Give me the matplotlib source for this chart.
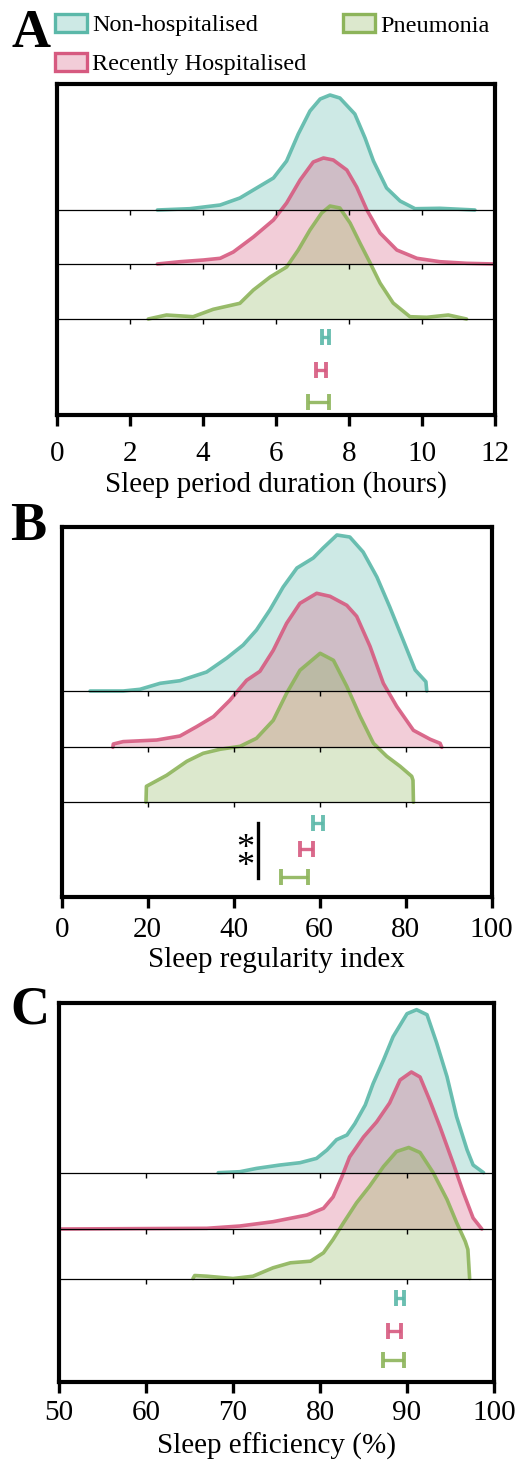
import matplotlib
matplotlib.use("Agg")
import matplotlib.pyplot as plt
from matplotlib.patches import Rectangle
import numpy as np

plt.rcParams['font.family'] = ['Liberation Serif', 'DejaVu Serif']

W, H = 518, 1461
DPI = 100

groups = ["Non-hospitalised", "Recently Hospitalised", "Pneumonia"]
line_colors = ["#5BB8A9", "#D65A80", "#8DB45A"]

# ---------------- Panel A: sleep period duration (hours) ----------------
A_teal_x = [2.75, 3.64, 4.47, 5.01, 5.47, 5.93, 6.29, 6.61, 6.93, 7.21, 7.48, 7.75, 8.16, 8.44, 8.67, 9.03, 9.40, 9.81, 10.49, 11.45]
A_teal_d = [0, 1.3, 5, 12, 22, 32, 49, 76, 99, 111, 115, 112, 96, 72, 49, 22, 9, 1.3, 1.7, 0]
A_pink_x = [2.75, 3.37, 4.01, 4.47, 4.83, 5.38, 5.93, 6.29, 6.66, 7.02, 7.30, 7.57, 7.94, 8.21, 8.49, 8.85, 9.31, 9.86, 10.49, 11.22, 12.0]
A_pink_d = [0, 2.3, 4, 5.7, 12, 27, 44, 61, 84, 102, 106, 104, 94, 77, 54, 31, 14, 5.7, 2.3, 0.7, 0]
A_green_x = [2.50, 3.0, 3.73, 4.28, 5.01, 5.38, 5.84, 6.29, 6.61, 6.93, 7.25, 7.48, 7.75, 8.03, 8.30, 8.58, 8.85, 9.21, 9.67, 10.13, 10.72, 11.22]
A_green_d = [0, 4, 2.3, 9.7, 15.7, 29, 42, 52, 69, 89, 106, 113, 111, 96, 76, 56, 36, 16, 2.3, 1.7, 4, 0]
A_mean = [7.35, 7.24, 7.16]
A_lo = [7.25, 7.10, 6.88]
A_hi = [7.44, 7.37, 7.44]
A_ticks = [0, 2, 4, 6, 8, 10, 12]

# ---------------- Panel B: sleep regularity index ----------------
B_teal_x = [6.6, 14.3, 18.2, 22.9, 27.5, 33.7, 38.4, 42.2, 45.3, 48.4, 51.5, 54.7, 58.5, 60.8, 64.0, 67.0, 70.1, 73.3, 76.3, 79.4, 82.2, 84.7, 84.9]
B_teal_d = [0, 0, 1.7, 7.7, 10.3, 19, 33, 46, 61, 81, 104, 123, 133, 143, 156, 154, 139, 114, 84, 51, 21, 9.3, 0]
B_pink_x = [11.9, 12.0, 14.3, 22.1, 27.5, 31.4, 35.3, 39.1, 43.0, 46.1, 49.2, 52.3, 55.4, 59.3, 62.4, 66.3, 68.6, 71.7, 74.8, 77.9, 81.8, 85.7, 88.0, 88.4]
B_pink_d = [0, 3.3, 5.7, 7.3, 11.3, 20.7, 30.7, 47, 67, 76, 97, 124, 144, 154, 151, 142, 131, 101, 64, 41, 17, 8, 4, 0]
B_green_x = [19.6, 19.7, 24.4, 29.1, 32.9, 36.8, 41.5, 45.3, 49.2, 52.3, 55.4, 60.1, 63.2, 66.3, 69.4, 72.5, 75.6, 78.7, 81.4, 81.7, 81.8]
B_green_d = [0, 16, 27, 41, 49, 53, 56, 64, 82, 109, 132, 149, 142, 116, 86, 59, 46, 36, 26, 22, 0]
B_mean = [59.65, 56.9, 54.05]
B_lo = [58.5, 55.4, 50.9]
B_hi = [60.8, 58.4, 57.2]
B_ticks = [0, 20, 40, 60, 80, 100]

# ---------------- Panel C: sleep efficiency (%) ----------------
C_teal_x = [68.3, 70.8, 72.7, 75.4, 77.7, 79.6, 80.8, 81.9, 83.1, 84.0, 85.2, 86.1, 87.3, 88.4, 90.0, 91.1, 92.3, 93.4, 94.6, 95.7, 96.9, 97.6, 98.8]
C_teal_d = [0, 1, 4.3, 7.7, 10, 14.3, 22.7, 33, 37.7, 49, 67.7, 89, 112.7, 136, 159, 163, 158, 130, 96, 56, 23, 7.7, 0]
C_pink_x = [50.1, 67.0, 70.8, 74.6, 78.5, 80.4, 81.5, 82.5, 83.4, 85.0, 86.5, 88.0, 89.2, 90.5, 91.5, 92.6, 93.8, 95.3, 96.5, 97.6, 98.6]
C_pink_d = [0, 0.7, 3, 7.3, 14, 20.7, 32, 52, 72, 92, 107, 126, 149, 157, 152, 129, 102, 66, 36, 11, 0]
C_green_x = [65.4, 65.6, 67.0, 70.0, 72.3, 74.6, 76.6, 78.9, 80.4, 81.5, 82.7, 84.2, 85.7, 87.3, 88.8, 90.2, 91.5, 93.0, 94.6, 95.7, 96.7, 97.0, 97.2]
C_green_d = [0, 3, 2.3, 0, 2.3, 10.7, 15.7, 17.3, 25.7, 39, 55.7, 75.7, 92.3, 112, 127, 131, 126, 106, 79, 56, 37, 29, 0]
C_mean = [89.2, 88.6, 88.4]
C_lo = [88.7, 87.85, 87.2]
C_hi = [89.7, 89.3, 89.6]
C_ticks = [50, 60, 70, 80, 90, 100]

fig = plt.figure(figsize=(W / DPI, H / DPI), dpi=DPI)


def px_axes(x0, x1, top, bottom):
    return fig.add_axes([x0 / W, 1 - bottom / H, (x1 - x0) / W, (bottom - top) / H])


def panel(box, xlim, ticks, curves, means, los, his, bases, err_y, xlabel,
          label_pad, tick_pad):
    x0, x1, top, bottom = box
    ax = px_axes(x0, x1, top, bottom)
    ax.set_xlim(*xlim)
    ax.set_ylim(0, bottom - top)
    for i, (xs, ds) in enumerate(curves):
        xs = np.asarray(xs, float)
        ys = bases[i] + np.asarray(ds, float)
        ax.fill_between(xs, bases[i], ys, color=line_colors[i], alpha=0.3,
                        lw=0, zorder=1 + i)
        ax.plot(xs, ys, color=line_colors[i], lw=2.6, alpha=0.9,
                solid_joinstyle='round', solid_capstyle='round', zorder=1.5 + i)
    for b in bases:
        ax.axhline(b, color='black', lw=0.9, zorder=6)
        ax.plot(ticks, [b] * len(ticks), ls='none', marker=3, ms=3.5,
                mew=1.0, color='black', zorder=6)
    for i in range(3):
        ax.errorbar([means[i]], [err_y[i]],
                    xerr=[[means[i] - los[i]], [his[i] - means[i]]],
                    fmt='none', ecolor=line_colors[i], elinewidth=2.4,
                    capsize=6, capthick=2.8, alpha=0.9, zorder=7)
    for s in ax.spines.values():
        s.set_linewidth(3.0)
        s.set_color('black')
    ax.set_yticks([])
    ax.set_xticks(ticks)
    ax.tick_params(axis='x', direction='out', length=8, width=2.4,
                   labelsize=21, pad=tick_pad)
    ax.set_xlabel(xlabel, fontsize=21, labelpad=label_pad)
    return ax


axA = panel((57, 495, 83.5, 415), (0, 12), A_ticks,
            [(A_teal_x, A_teal_d), (A_pink_x, A_pink_d), (A_green_x, A_green_d)],
            A_mean, A_lo, A_hi, [205, 151, 96], [78, 45, 13],
            "Sleep period duration (hours)", 3, 11)

axB = panel((61.7, 491.7, 526.7, 896.7), (0, 100), B_ticks,
            [(B_teal_x, B_teal_d), (B_pink_x, B_pink_d), (B_green_x, B_green_d)],
            B_mean, B_lo, B_hi, [205.7, 149.4, 94.4], [73.4, 47.4, 20],
            "Sleep regularity index", 3, 6.6)
# significance bracket between non-hospitalised and pneumonia
axB.plot([45.7, 45.7], [73.4, 18.4], color='black', lw=2.4, zorder=8)
axB.text(42.6, 38.0, "*\n*", ha='center', va='center', fontsize=26,
         linespacing=0.42, zorder=8)

axC = panel((59, 494, 1003.3, 1381.7), (50, 100), C_ticks,
            [(C_teal_x, C_teal_d), (C_pink_x, C_pink_d), (C_green_x, C_green_d)],
            C_mean, C_lo, C_hi, [209, 152.7, 103.2], [83.4, 51, 21.7],
            "Sleep efficiency (%)", 5, 5)

# panel letters
for letter, (lx, ly) in zip("ABC", [(12, 47), (10, 540), (10, 1023)]):
    fig.text(lx / W, 1 - ly / H, letter, fontsize=39, fontweight='bold',
             ha='left', va='baseline')

# legend (drawn manually to match placement)
leg_items = [(55, 14, 92, 31.5, 0), (55, 53, 92, 70, 1), (343, 14, 380, 31.5, 2)]
for px, py, tx, ty, i in leg_items:
    fig.patches.append(Rectangle((px / W, 1 - (py + 18) / H), 32 / W, 18 / H,
                                 transform=fig.transFigure,
                                 facecolor=matplotlib.colors.to_rgba(line_colors[i], 0.3),
                                 edgecolor=line_colors[i], lw=2.4))
    fig.text(tx / W, 1 - ty / H, groups[i], fontsize=17.5, ha='left', va='baseline')

fig.savefig("out.png", dpi=DPI)
